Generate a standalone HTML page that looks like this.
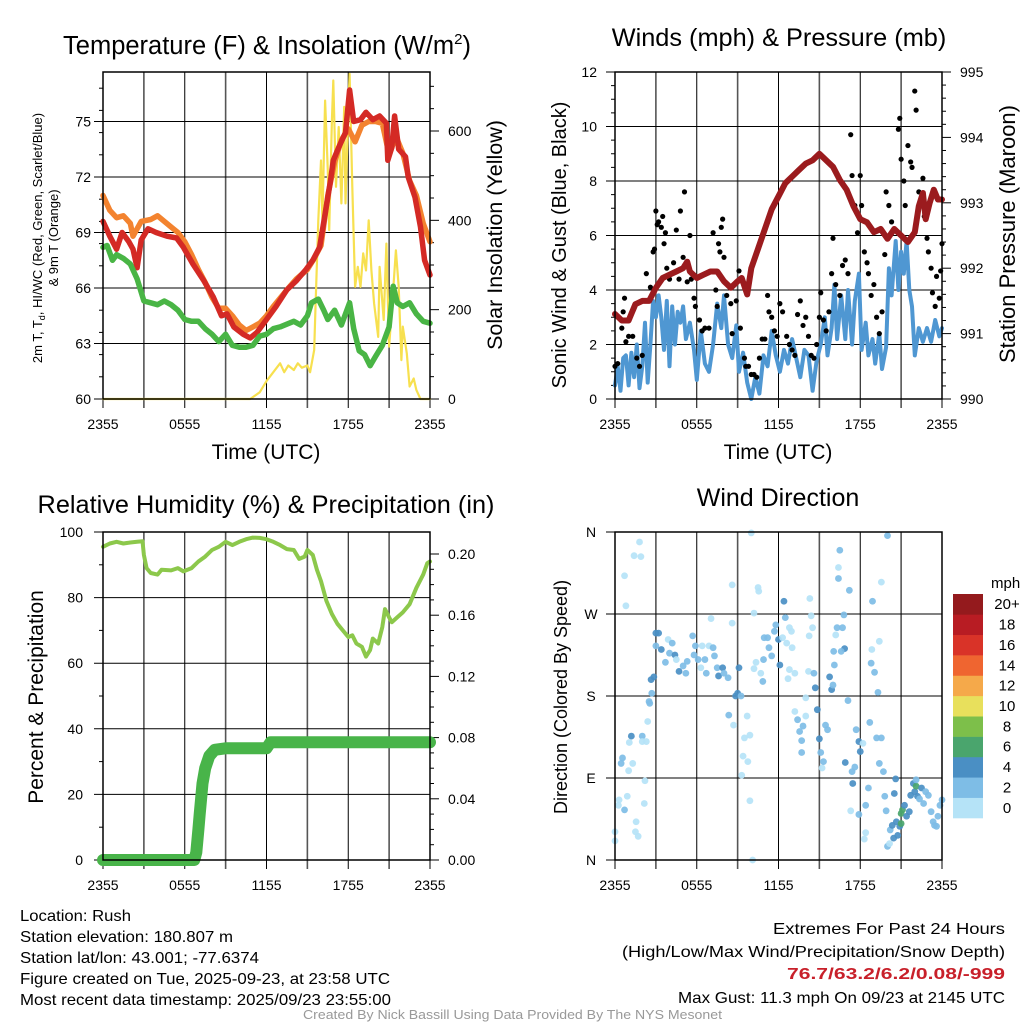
<!DOCTYPE html>
<html><head><meta charset="utf-8"><style>
html,body{margin:0;padding:0;background:#fff}
svg{display:block;font-family:"Liberation Sans",sans-serif}
</style></head><body>
<svg id="root" width="1024" height="1024" viewBox="0 0 1024 1024"></svg>
<script>
// ===== DATA =====
const hoursTicks = [0,6,12,18,24];
const timeLabels = ["2355","0555","1155","1755","2355"];
// Panel 1: temperature (F)
const tempT = [0,0.5,1,1.4,1.9,2.2,2.5,2.8,3.3,3.9,4.7,5.4,5.9,6.6,7.4,8.1,8.7,9.1,9.6,10.3,10.8,11.3,12,12.7,13.5,14.2,14.9,15.4,15.9,16.3,16.7,16.9,17.3,17.8,18.1,18.4,18.9,19.3,19.8,20.3,20.8,20.9,21.2,21.4,21.7,22.2,22.4,22.9,23.3,23.6,24];
const temp2m = [69.6,68.8,68.1,69.0,68.5,68.1,67.1,68.6,69.2,69.0,68.8,68.7,68.2,67.3,66.4,65.5,64.5,64.6,63.9,63.5,63.3,63.6,64.3,65.0,65.9,66.4,67.0,67.5,68.2,70.0,71.8,72.9,73.6,74.4,76.7,75.0,75.1,75.5,75.1,75.3,74.9,72.9,73.6,75.3,73.5,73.1,72.0,70.9,69.3,67.5,66.7];
const temp9T = [0,0.5,1,1.5,2,2.2,2.5,2.8,3.5,4,4.5,5,5.5,6,6.5,7,7.5,8,8.5,9,9.5,10,10.5,11,11.5,12,12.5,13.5,14.2,15,15.5,16,16.5,17,17.5,18,18.5,19,19.5,20,20.5,21,21.5,22,22.5,23,23.5,24];
const temp9m = [71.0,70.2,69.8,69.9,69.5,68.8,69.2,69.6,69.7,69.9,69.6,69.3,69.0,68.5,67.8,67.0,66.3,65.5,64.9,64.9,64.5,64.0,63.7,63.9,64.1,64.5,65.0,65.9,66.5,67.0,67.6,68.3,71.0,72.8,74.0,74.6,73.9,74.8,75.0,75.0,74.9,73.2,74.2,73.3,71.8,71.0,69.5,68.5];
const dewT = [0,0.3,0.7,1,1.5,2,2.5,3,3.5,4,4.5,5,5.5,6,6.5,7,7.5,8,8.5,9,9.5,10,10.5,11,11.5,12,12.5,13,14,14.5,15,15.3,15.8,16.2,16.5,17,17.5,18.1,18.4,18.8,19.2,19.6,20,20.5,21,21.3,21.6,22,22.5,23,23.5,24];
const dewpt = [68.2,68.3,67.5,67.8,67.6,67.3,66.5,65.3,65.2,65.1,65.3,65.1,64.8,64.3,64.2,64.2,63.8,63.5,63.1,63.5,62.9,62.8,62.8,62.9,63.4,63.5,63.8,63.9,64.2,64.0,64.5,65.2,65.4,64.8,64.3,64.8,64.0,65.2,63.8,62.6,62.4,61.8,62.3,62.9,63.9,66.1,65.2,65.0,65.2,64.6,64.2,64.1];
const solarT = [0,10.8,11.5,12,12.5,13,13.3,13.6,14,14.3,14.6,15,15.2,15.5,15.6,15.8,16,16.1,16.3,16.5,16.6,16.8,16.9,17.1,17.3,17.5,17.7,17.8,18,18.1,18.3,18.5,18.7,18.9,19.1,19.3,19.5,19.7,19.9,20.2,20.3,20.6,20.8,21,21.2,21.5,21.7,21.9,22,22.3,22.5,22.8,23,23.3,24];
const solar = [0,0,15,40,60,80,60,75,65,80,70,75,60,110,206,400,534,400,668,512,378,624,713,475,609,438,654,438,646,728,475,251,296,251,326,288,400,288,214,139,296,177,348,117,199,333,251,87,162,102,28,46,20,0,0];
// Panel 2: winds & pressure
const windT = [0,0.2,0.4,0.6,0.8,1,1.2,1.4,1.6,1.8,2,2.2,2.4,2.6,2.8,3,3.2,3.4,3.6,3.8,4,4.2,4.4,4.6,4.8,5,5.2,5.5,5.8,6,6.3,6.6,6.9,7.2,7.5,7.8,8,8.3,8.6,8.9,9.1,9.4,9.7,10,10.3,10.6,10.9,11.2,11.5,11.8,12.1,12.4,12.7,13,13.3,13.6,13.9,14.2,14.5,14.8,15.1,15.4,15.6,15.9,16.1,16.3,16.6,16.9,17.1,17.4,17.6,17.9,18.1,18.4,18.6,18.9,19.1,19.4,19.6,19.9,20.1,20.3,20.6,20.8,21,21.2,21.4,21.6,21.8,22,22.3,22.6,22.9,23.2,23.5,23.8,24];
const windSpd = [0.5,1.2,0.3,1.5,1.6,0.5,1.7,0.8,2.0,0.4,1.2,2.8,0.6,2.0,3.6,3.0,3.8,3.0,1.8,3.6,1.2,3.4,2.0,3.2,2.8,3.4,2.2,2.8,1.8,0.7,2.5,1.3,1.0,2.0,3.5,2.6,3.8,2.0,1.5,2.7,1.0,1.7,0.6,0.0,0.8,0.2,1.6,1.2,2.5,1.6,1.0,1.8,1.3,2.2,1.5,0.8,1.8,1.6,0.3,1.4,2.0,3.0,1.6,2.6,4.2,2.2,3.8,2.2,4.0,2.0,3.6,4.6,1.8,2.8,1.6,2.2,1.3,2.4,1.1,1.9,4.8,3.8,5.8,4.0,5.4,4.6,5.8,4.0,3.4,1.6,2.6,2.1,2.6,2.1,2.9,2.3,2.6];
const gustT = [0,0.2,0.5,0.6,0.7,0.8,1,1.3,1.6,1.8,2,2.3,2.6,2.8,2.9,3,3.1,3.2,3.4,3.5,3.6,3.7,3.8,4,4.3,4.5,4.7,4.8,5,5.1,5.3,5.5,5.6,5.8,5.9,6.2,6.4,6.6,6.9,7.2,7.4,7.5,7.6,7.7,7.8,7.9,8,8.2,8.5,8.6,8.9,9.1,9.2,9.5,9.6,9.8,10,10.2,10.4,10.6,10.8,11,11.2,11.3,11.5,11.7,11.9,12.1,12.3,12.6,12.8,13,13.2,13.4,13.6,13.8,14,14.2,14.4,14.6,14.8,15,15.1,15.3,15.5,15.7,15.9,16,16.2,16.5,16.7,16.9,17.1,17.3,17.4,17.6,17.8,18,18.1,18.3,18.5,18.6,18.8,19,19.2,19.4,19.6,19.8,19.9,20.1,20.3,20.6,20.8,20.9,21,21.2,21.3,21.5,21.7,21.8,22,22.1,22.3,22.4,22.6,22.7,22.9,23,23.2,23.3,23.5,23.6,23.8,23.9,24];
const gust = [1.2,1.3,2.6,3.2,3.7,2.1,2.3,2.3,1.5,1.2,1.6,4.6,4.1,5.4,5.5,6.9,6.4,6.5,6.3,6.7,5.7,6.1,4.8,4.4,5.0,6.2,4.4,6.9,5.2,7.6,4.3,6.0,4.4,3.7,3.4,2.9,2.5,2.6,2.6,6.1,4.0,3.4,5.7,5.4,6.3,6.6,5.2,3.8,3.5,2.4,3.6,4.7,2.6,1.5,1.2,1.2,0.9,0.9,0.8,1.5,2.2,2.2,3.8,3.2,3.0,2.5,2.3,3.5,3.2,2.3,2.0,1.8,1.6,3.1,3.6,2.7,3.0,2.3,1.6,1.5,2.0,3.0,3.9,2.9,2.5,3.2,4.6,5.9,4.2,3.8,4.9,5.1,4.6,9.7,8.2,7.1,6.1,8.2,7.1,5.4,5.0,4.6,3.8,4.2,3.0,2.4,3.2,5.3,7.6,7.1,6.5,6.2,9.9,10.3,8.8,8.0,7.1,9.3,8.7,8.5,11.3,10.6,7.6,7.2,8.1,6.7,5.9,5.4,4.8,3.9,3.4,4.5,3.7,4.7,5.7];
const presT = [0,0.5,1,1.5,2,2.5,3,3.5,4,4.5,5,5.3,5.5,6,6.5,7,7.5,8,8.5,9,9.3,9.7,10,10.5,11,11.5,12,12.5,13,13.5,14,14.5,15,15.5,16,16.5,17,17.5,18,18.5,19,19.5,20,20.5,21,21.5,22,22.3,22.6,22.8,23.1,23.4,23.7,24];
const pressure = [991.3,991.2,991.2,991.45,991.5,991.5,991.7,991.85,991.9,991.95,992.0,992.1,991.95,991.85,991.9,991.95,991.95,991.8,991.7,991.8,991.85,991.6,992.0,992.3,992.6,992.9,993.1,993.3,993.4,993.5,993.6,993.65,993.75,993.65,993.55,993.35,993.2,992.95,992.75,992.7,992.55,992.6,992.45,992.6,992.5,992.4,992.55,992.95,993.15,992.75,993.0,993.2,993.05,993.05];
// Panel 3: RH (%) & precip (in)
const rhT = [0,0.5,1,1.5,2,2.5,2.9,3,3.2,3.5,4,4.3,5,5.5,5.9,6.5,7,7.5,8,8.5,9,9.5,10,10.5,11,11.5,12,12.5,13,13.5,14,14.4,14.8,15,15.4,15.7,16,16.4,16.8,17.2,17.6,18,18.3,18.6,19,19.3,19.6,19.8,20.2,20.5,20.7,21,21.2,21.6,22,22.5,23,23.5,23.8,24];
const rh = [95.5,96.5,97,96.5,96.8,97,97.2,93,89,87.5,87,88.5,88.3,89,88,89,91,92.5,94.5,95.5,97,96,97,97.8,98.3,98.2,97.8,97,96,94.8,94.5,91.8,92.5,94.5,93,88.5,85,79,75,72,70,68,68.5,66,65,62,64,67.5,66,71,76.5,74,72.5,74,75.5,78,83,87,90.5,91];
const precipT = [0,6.7,6.85,7.0,7.1,7.2,7.3,7.5,7.8,8.2,9,12,12.3,24];
const precip = [0,0,0.005,0.02,0.03,0.04,0.05,0.06,0.068,0.072,0.073,0.073,0.077,0.077];
// Panel 4: wind direction (deg) colored by speed bin
const dirT = [0,0,0.3,0.25,0.7,0.9,0.45,0.55,1.0,1.3,1.2,1.05,0.7,0.8,1.4,1.8,1.9,1.55,1.7,1.5,2.0,2.0,2.3,2.15,2.2,2.4,2.5,2.55,2.7,2.65,2.85,3.0,3.2,3.0,3.4,3.7,3.9,4.0,4.2,4.4,4.5,4.7,5.0,5.2,5.3,5.7,5.8,5.9,6.1,6.3,6.4,6.6,6.7,6.9,7.2,7.3,7.5,7.6,7.9,8.0,8.3,7.05,8.6,8.6,8.85,9.0,9.1,9.25,8.35,8.7,9.7,9.5,9.9,9.4,9.75,9.3,9.9,10.0,10.1,10.2,10.5,10.55,10.35,10.2,10.7,10.85,10.9,10.95,11.2,11.3,11.5,11.7,11.8,12.0,12.1,12.4,12.5,12.3,12.6,12.8,12.95,13.0,12.8,12.7,13.2,13.2,13.4,13.8,13.55,13.7,13.7,14.0,14.0,14.2,14.3,14.4,14.5,14.25,14.6,14.7,14.85,15.0,15.1,15.2,15.3,15.45,15.6,15.75,15.9,16.0,16.05,16.1,16.2,16.3,16.4,16.4,16.5,16.7,16.8,16.85,16.6,17.1,17.2,16.9,17.4,17.6,17.45,17.3,17.7,17.9,18.0,18.2,18.6,18.7,18.4,17.9,18.4,18.3,18.9,19.05,18.8,18.85,19.4,19.55,19.3,19.2,19.55,19.4,19.7,19.8,19.9,20.0,20.0,20.15,20.2,20.35,20.45,20.5,20.6,20.65,20.75,20.9,21.0,21.0,21.1,21.25,21.4,21.6,21.7,21.9,22.0,22.1,22.2,22.35,22.5,22.65,22.8,23.0,23.2,23.35,23.45,23.6,23.7,23.85,24.0,22.1];
const dirDeg = [31,21,66,60,55,70,106,112,98,106,136,129,312,279,334,349,333,42,26,31,136,130,130,62,87,152,174,172,183,198,201,249,249,235,231,217,242,227,238,225,220,207,213,205,218,246,225,235,220,211,235,220,205,235,233,224,211,202,211,205,200,265,302,260,180,183,211,180,159,148,158,134,137,114,108,93,65,359,0,271,299,295,217,210,205,196,220,244,244,233,224,251,258,242,214,284,266,244,238,255,251,233,209,199,205,163,154,147,141,131,118,158,178,207,287,268,255,246,205,189,165,133,118,101,108,148,143,201,187,192,229,214,247,255,309,321,340,255,269,232,229,175,296,107,97,102,84,54,143,130,119,128,79,151,60,50,30,23,284,206,216,231,240,305,184,134,134,106,97,70,54,356,15,18,33,38,24,73,89,42,27,37,40,51,55,60,48,53,71,84,75,81,70,67,79,62,75,71,53,42,38,37,48,60,66,88];
const dirBin = [0,0,0,0,1,0,1,1,0,0,2,0,0,0,0,0,0,0,0,0,1,0,0,0,0,0,1,1,1,2,2,2,2,1,2,1,0,1,1,2,0,2,1,1,1,1,1,1,1,0,0,1,1,0,1,1,1,2,2,1,1,0,0,0,2,2,2,1,1,0,0,0,0,0,0,0,0,0,0,0,0,0,0,0,0,1,1,1,1,1,1,1,1,2,2,2,1,0,0,0,0,0,0,0,0,0,1,1,1,1,1,0,0,0,0,0,0,0,1,2,2,2,1,0,1,1,1,2,2,1,1,1,0,1,1,0,1,1,1,2,1,1,1,2,1,1,2,0,1,2,2,0,1,1,1,1,0,0,1,1,1,0,0,0,1,1,1,1,1,1,1,1,1,0,1,2,2,2,2,2,2,2,3,3,3,2,2,2,2,2,2,3,2,1,2,1,1,1,1,1,1,1,1,1,1,1,1,0];
const cbarLabels = ["0","2","4","6","8","10","12","14","16","18","20+"];
const cbarColors = ["#b5e3f7","#7ebde6","#4a8fc4","#4aa56d","#7dbf4a","#e8e05c","#f5a94a","#ef6530","#d93328","#b81c23","#941a1d"];

// ===== DRAW =====
const NS="http://www.w3.org/2000/svg";
const root=document.getElementById('root');
function mk(tag,attrs,parent){const e=document.createElementNS(NS,tag);for(const k in attrs)e.setAttribute(k,attrs[k]);(parent||root).appendChild(e);return e;}
function txt(s,x,y,size,anchor,parent,extra){const e=mk('text',Object.assign({x:x,y:y,'font-size':size,'text-anchor':anchor||'middle',fill:'#000'},extra||{}),parent);e.textContent=s;return e;}
function lin(d0,d1,r0,r1){return v=>r0+(v-d0)*(r1-r0)/(d1-d0);}

function panel(name,x0,x1,y0,y1){
  const g=mk('g',{});
  
  
  const X=lin(0,24,x0,x1);
  for(let h=0;h<=24;h+=3){
    const l=mk('line',{x1:X(h),x2:X(h),y1:y0,y2:y1+9,stroke:(h%6===3?'#555':'#000'),'stroke-width':(h%6===3?1.6:1)},g);
    
    
  }
  hoursTicks.forEach((h,i)=>{const t=txt(timeLabels[i],X(h),y1+30,14,'middle',g);
    
    });
  return {g,X};
}
function hgrid(g,x0,x1,y,len){const l=mk('line',{x1:x0-len,x2:x1,y1:y,y2:y,stroke:'#000','stroke-width':1},g);
  
  }
function rtick(g,x1,y,len){mk('line',{x1:x1,x2:x1+len,y1:y,y2:y,stroke:'#000','stroke-width':1},g);}
function path(g,xs,ys,X,Y,color,w,name){
  let d='';xs.forEach((t,i)=>{d+=(i?'L':'M')+X(t).toFixed(1)+','+Y(ys[i]).toFixed(1);});
  const p=mk('path',{d:d,fill:'none',stroke:color,'stroke-width':w,'stroke-linejoin':'round','stroke-linecap':'round'},g);
  
  
  return p;
}
function frame(g,x0,x1,y0,y1){mk('rect',{x:x0,y:y0,width:x1-x0,height:y1-y0,fill:'none',stroke:'#000','stroke-width':1.5},g);}

// ---- Panel 1 ----
(function(){
  const x0=103,x1=430,y0=72,y1=399;
  const {g,X}=panel('temperature-panel',x0,x1,y0,y1);
  const Y=lin(60,75,399,121.5), YS=lin(0,600,399,131);
  [60,63,66,69,72,75].forEach(v=>{hgrid(g,x0,x1,Y(v),9);const t=txt(String(v),x0-12,Y(v)+5,14,'end',g);
    
    });
  for(let v=61.2;v<77.6;v+=1.2){if(Math.abs((v-60)%3)>0.01)mk('line',{x1:x0-4,x2:x0,y1:Y(v),y2:Y(v),stroke:'#000'},g);}
  for(let v=0;v<=700;v+=50){rtick(g,x1,YS(v),v%200===0?9:4);}
  [0,200,400,600].forEach(v=>{const t=txt(String(v),x1+18,YS(v)+5,14,'start',g);
    
    });
  path(g,solarT,solar,X,YS,'#f7e04f',2.2,'solar-insolation-line');
  path(g,temp9T,temp9m,X,Y,'#f3832f',5.5,'temp-9m-line');
  path(g,tempT,temp2m,X,Y,'#d42a25',5.5,'temp-2m-line');
  path(g,dewT,dewpt,X,Y,'#49b545',5.5,'dewpoint-line');
  frame(g,x0,x1,y0,y1);
  const t=mk('text',{x:267,y:54,'font-size':25.5,'text-anchor':'middle'},g);
  
  
  t.innerHTML='Temperature (F) &amp; Insolation (W/m<tspan dy="-10" font-size="15">2</tspan><tspan dy="10">)</tspan>';
  const l1=mk('text',{x:0,y:0,'font-size':13,'text-anchor':'middle',transform:'translate(42,238) rotate(-90)'},g);
  
  
  l1.innerHTML='2m T, T<tspan dy="3" font-size="9">d</tspan><tspan dy="-3">, HI/WC (Red, Green, Scarlet/Blue)</tspan>';
  const l2=txt('& 9m T (Orange)',0,0,13,'middle',g,{transform:'translate(58,238) rotate(-90)'});
  
  
  const r=txt('Solar Insolation (Yellow)',0,0,21.5,'middle',g,{transform:'translate(502,235) rotate(-90)'});
  
  
  const xt=txt('Time (UTC)',266,459,21,'middle',g);
  
  
})();

// ---- Panel 2 ----
(function(){
  const x0=615,x1=942,y0=72,y1=399;
  const {g,X}=panel('winds-panel',x0,x1,y0,y1);
  const Y=lin(0,12,399,72), YP=lin(990,995,399,72);
  [0,2,4,6,8,10,12].forEach(v=>{hgrid(g,x0,x1,Y(v),9);const t=txt(String(v),x0-18,Y(v)+5,14,'end',g);
    
    });
  for(let v=0;v<=12;v+=0.5){if(v%2)mk('line',{x1:x0-4,x2:x0,y1:Y(v),y2:Y(v),stroke:'#000'},g);}
  for(let v=990;v<=995.001;v+=0.2){rtick(g,x1,YP(v),Math.abs(v-Math.round(v))<0.01?9:4);}
  [990,991,992,993,994,995].forEach(v=>{const t=txt(String(v),x1+18,YP(v)+5,14,'start',g);
    
    });
  path(g,windT,windSpd,X,Y,'#4f97d2',4,'sonic-wind-line');
  gustT.forEach((t,i)=>{const c=mk('circle',{cx:X(t),cy:Y(gust[i]),r:2.6,fill:'#000'},g);
    
    });
  path(g,presT,pressure,X,YP,'#9b1b1e',6,'pressure-line');
  frame(g,x0,x1,y0,y1);
  const t=txt('Winds (mph) & Pressure (mb)',779,46,25.3,'middle',g);
  
  
  const l=txt('Sonic Wind & Gust (Blue, Black)',0,0,20,'middle',g,{transform:'translate(566,245) rotate(-90)'});
  
  
  const r=txt('Station Pressure (Maroon)',0,0,22,'middle',g,{transform:'translate(1015,234) rotate(-90)'});
  
  
  const xt=txt('Time (UTC)',778,459,21,'middle',g);
  
  
})();

// ---- Panel 3 ----
(function(){
  const x0=103,x1=430,y0=532,y1=860;
  const {g,X}=panel('humidity-precip-panel',x0,x1,y0,y1);
  const Y=lin(0,100,860,532), YR=lin(0,0.2,860,554);
  [0,20,40,60,80,100].forEach(v=>{hgrid(g,x0,x1,Y(v),9);const t=txt(String(v),x0-20,Y(v)+5,14,'end',g);
    
    });
  for(let v=10;v<100;v+=20)mk('line',{x1:x0-4,x2:x0,y1:Y(v),y2:Y(v),stroke:'#000'},g);
  for(let v=0;v<=0.21;v+=0.01){rtick(g,x1,YR(v),Math.round(v*100)%4===0?9:4);}
  [0,0.04,0.08,0.12,0.16,0.2].forEach(v=>{const t=txt(v.toFixed(2),x1+18,YR(v)+5,14,'start',g);
    
    });
  path(g,rhT,rh,X,Y,'#8cc84b',4,'relative-humidity-line');
  path(g,precipT,precip,X,YR,'#48b449',12,'precipitation-line');
  frame(g,x0,x1,y0,y1);
  const t=txt('Relative Humidity (%) & Precipitation (in)',266,513,25.3,'middle',g);
  
  
  const l=txt('Percent & Precipitation',0,0,21,'middle',g,{transform:'translate(43,697) rotate(-90)'});
  
  
})();

// ---- Panel 4 ----
(function(){
  const x0=615,x1=942,y0=532,y1=860;
  const {g,X}=panel('wind-direction-panel',x0,x1,y0,y1);
  const Y=lin(0,360,860,532);
  const dl=['N','E','S','W','N'];
  [0,90,180,270,360].forEach((v,i)=>{hgrid(g,x0,x1,Y(v),9);const t=txt(dl[i],591,Y(v)+5,14,'middle',g);
    
    });
  dirT.forEach((t,i)=>{const c=mk('circle',{cx:X(t),cy:Y(dirDeg[i]),r:3.4,fill:cbarColors[dirBin[i]],'fill-opacity':0.92},g);
    
    });
  frame(g,x0,x1,y0,y1);
  const t=txt('Wind Direction',778,506,25,'middle',g);
  
  
  const l=txt('Direction (Colored By Speed)',0,0,18,'middle',g,{transform:'translate(567,697) rotate(-90)'});
  
  
  const cb=mk('g',{},root);
  
  
  const ct=594,cbot=818,n=cbarColors.length,h=(cbot-ct)/n;
  cbarColors.forEach((c,i)=>{const r=mk('rect',{x:953,y:cbot-(i+1)*h,width:30,height:h+0.3,fill:c},cb);
    
    
    const tl=txt(cbarLabels[i],1007,cbot-(i+0.5)*h+5,15,'middle',cb);
    
    });
  const m=txt('mph',991,588,15,'start',cb);
  
  
})();

// ---- Footer text ----
const info=[["Location: Rush",921,111],["Station elevation: 180.807 m",942,213],["Station lat/lon: 43.001; -77.6374",963,239],["Figure created on Tue, 2025-09-23, at 23:58 UTC",984,370],["Most recent data timestamp: 2025/09/23 23:55:00",1005,371]];
info.forEach(a=>{const t=txt(a[0],20,a[1],16,'start',null,{textLength:a[2],lengthAdjust:'spacingAndGlyphs'});
  
  });
const ext=[["Extremes For Past 24 Hours",934,232,'#000',''],["(High/Low/Max Wind/Precipitation/Snow Depth)",957,383,'#000',''],["76.7/63.2/6.2/0.08/-999",979,218,'#c8202a','bold'],["Max Gust: 11.3 mph On 09/23 at 2145 UTC",1003,327,'#000','']];
ext.forEach(a=>{const t=txt(a[0],1005-a[2],a[1],16,'start',null,{textLength:a[2],lengthAdjust:'spacingAndGlyphs',fill:a[3],'font-weight':a[4]||'normal'});
  
  });
const cr=txt('Created By Nick Bassill Using Data Provided By The NYS Mesonet',303,1019,12.5,'start',null,{textLength:419,lengthAdjust:'spacingAndGlyphs',fill:'#999'});


</script>
</body></html>
